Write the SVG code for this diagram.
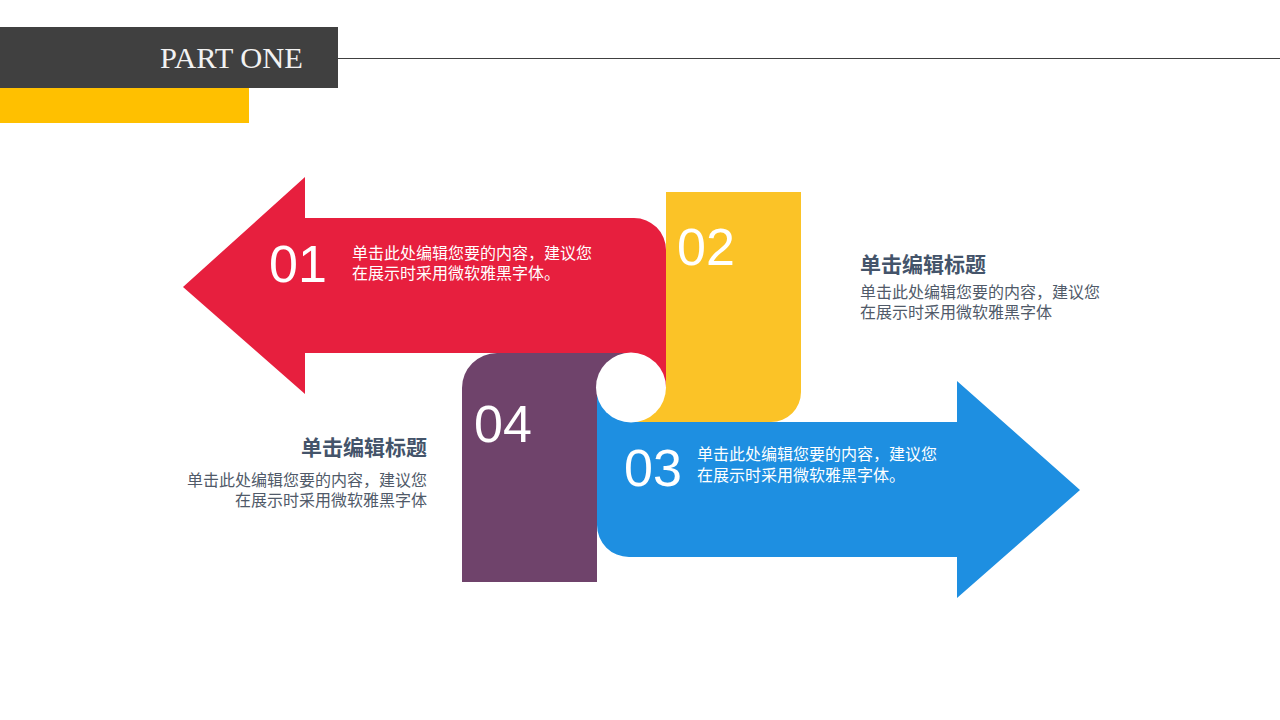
<svg xmlns="http://www.w3.org/2000/svg" width="1280" height="720" viewBox="0 0 1280 720">
<style>
.num{font-family:"Liberation Sans",Arial,sans-serif;font-size:52px;fill:#FFFFFF}
.wt{font-family:"Noto Sans CJK SC","Microsoft YaHei",sans-serif;font-size:16px;fill:#FFFFFF}
.tt{font-family:"Noto Sans CJK SC","Microsoft YaHei",sans-serif;font-size:21px;font-weight:bold;fill:#44546A}
.bd{font-family:"Noto Sans CJK SC","Microsoft YaHei",sans-serif;font-size:16px;fill:#505A69}
</style>
<rect width="1280" height="720" fill="#FFFFFF"/>
<g id="header">
<line x1="338" y1="58.5" x2="1280" y2="58.5" stroke="#404040" stroke-width="1"/>
<rect x="0" y="27" width="338" height="61" fill="#404040"/>
<rect x="0" y="88" width="249" height="35" fill="#FFC000"/>
<text x="160" y="68" font-family="Liberation Serif,serif" font-size="30" fill="#F2F2F2" textLength="143" lengthAdjust="spacingAndGlyphs">PART ONE</text>
</g>
<g id="node-01">
<path d="M183,287 L305,177 L305,218 L634,218 A32,32 0 0 1 666,250 L666,387 L631,387 L631,353 L305,353 L305,394 Z" fill="#E71F3E"/>
<text class="num" x="269" y="282">01</text>
<text class="wt" x="352" y="259">单击此处编辑您要的内容，建议您</text>
<text class="wt" x="352" y="279">在展示时采用微软雅黑字体。</text>
</g>
<g id="node-02">
<path d="M666,192 L801,192 L801,392 A30,30 0 0 1 771,422 L631,422 L631,387 L666,387 Z" fill="#FBC327"/>
<text class="num" x="677" y="265">02</text>
</g>
<g id="node-04">
<path d="M462,582 L462,388 A35,35 0 0 1 497,353 L631,353 L631,387 L597,387 L597,582 Z" fill="#6F436B"/>
<text class="num" x="474" y="442">04</text>
</g>
<g id="node-03">
<path d="M597,387 L631,387 L631,422 L957,422 L957,381 L1080,490 L957,598 L957,557 L629,557 A32,32 0 0 1 597,525 Z" fill="#1E8FE1"/>
<text class="num" x="624" y="486">03</text>
<text class="wt" x="697" y="460">单击此处编辑您要的内容，建议您</text>
<text class="wt" x="697" y="481">在展示时采用微软雅黑字体。</text>
</g>
<circle id="hub" cx="631" cy="387.5" r="35" fill="#FFFFFF"/>
<g id="text-right">
<text class="tt" x="860" y="272">单击编辑标题</text>
<text class="bd" x="860" y="298">单击此处编辑您要的内容，建议您</text>
<text class="bd" x="860" y="318">在展示时采用微软雅黑字体</text>
</g>
<g id="text-left" text-anchor="end">
<text class="tt" x="427" y="455">单击编辑标题</text>
<text class="bd" x="427" y="486">单击此处编辑您要的内容，建议您</text>
<text class="bd" x="427" y="506">在展示时采用微软雅黑字体</text>
</g>
<g id="connectors"/>
</svg>
